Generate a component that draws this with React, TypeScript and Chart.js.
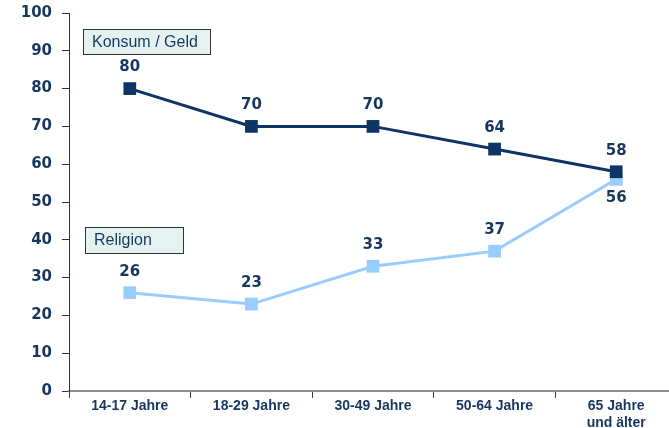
import React, { useEffect, useRef } from "react";
import { Chart, registerables } from "chart.js";

Chart.register(...registerables);

const categories: (string | string[])[] = [
  "14-17 Jahre",
  "18-29 Jahre",
  "30-49 Jahre",
  "50-64 Jahre",
  ["65 Jahre", "und älter"],
];
const konsumValues = [80, 70, 70, 64, 58];
const religionValues = [26, 23, 33, 37, 56];
const konsumLabelBelow = [false, false, false, false, false];
const religionLabelBelow = [false, false, false, false, true];
const seriesNames = ["Konsum / Geld", "Religion"];

const NAVY = "#0E3466";
const TEXT = "#17375E";
const LIGHT = "#99CCFF";
const FONT = "'Liberation Sans', Arial, sans-serif";
const WIDE = "'DejaVu Sans', Verdana, sans-serif";

const valueLabels = {
  id: "valueLabels",
  afterDatasetsDraw(chart: any) {
    const ctx = chart.ctx;
    ctx.save();
    ctx.font = `bold 15px ${WIDE}`;
    ctx.fillStyle = TEXT;
    ctx.textAlign = "center";
    ctx.textBaseline = "middle";
    const below = [konsumLabelBelow, religionLabelBelow];
    chart.data.datasets.forEach((ds: any, di: number) => {
      const meta = chart.getDatasetMeta(di);
      meta.data.forEach((pt: any, i: number) => {
        const b = below[di][i];
        ctx.fillText(String(ds.data[i]), pt.x, b ? pt.y + 19 : pt.y - 21);
      });
    });
    ctx.restore();
  },
};

const nameBoxes = {
  id: "nameBoxes",
  afterDraw(chart: any) {
    const ctx = chart.ctx;
    const a = chart.chartArea;
    const boxes = [
      { text: seriesNames[0], x: a.left + 14, y: 29, w: 127, h: 25 },
      { text: seriesNames[1], x: a.left + 16, y: 227, w: 98, h: 26 },
    ];
    ctx.save();
    boxes.forEach((b) => {
      ctx.fillStyle = "#E6F2F2";
      ctx.fillRect(b.x, b.y, b.w, b.h);
      ctx.strokeStyle = "#333333";
      ctx.lineWidth = 1;
      ctx.strokeRect(b.x + 0.5, b.y + 0.5, b.w, b.h);
      ctx.fillStyle = TEXT;
      ctx.font = `16px ${FONT}`;
      ctx.textAlign = "left";
      ctx.textBaseline = "middle";
      ctx.fillText(b.text, b.x + 9, b.y + b.h / 2 + 1);
    });
    ctx.restore();
  },
};

export default function App() {
  const ref = useRef<HTMLCanvasElement>(null);
  useEffect(() => {
    if (!ref.current) return;
    const chart = new Chart(ref.current, {
      type: "line",
      data: {
        labels: categories as any,
        datasets: [
          {
            label: seriesNames[0],
            data: konsumValues,
            borderColor: NAVY,
            backgroundColor: NAVY,
            borderWidth: 3,
            pointStyle: "rect",
            pointRadius: 9,
            pointBorderWidth: 0,
            pointBackgroundColor: NAVY,
            tension: 0,
          },
          {
            label: seriesNames[1],
            data: religionValues,
            borderColor: LIGHT,
            backgroundColor: LIGHT,
            borderWidth: 3,
            pointStyle: "rect",
            pointRadius: 9,
            pointBorderWidth: 0,
            pointBackgroundColor: LIGHT,
            tension: 0,
          },
        ],
      },
      options: {
        responsive: false,
        animation: false,
        devicePixelRatio: 1,
        layout: { padding: { top: 13, left: 0, right: 0, bottom: 0 } },
        plugins: {
          legend: { display: false },
          tooltip: { enabled: false },
        },
        scales: {
          x: {
            offset: true,
            afterFit(scale: any) {
              scale.height = 37;
            },
            border: { display: true, color: "#909090", width: 2 },
            grid: {
              offset: true,
              drawOnChartArea: false,
              drawTicks: true,
              tickLength: 7,
              color: "#404040",
              lineWidth: 1,
            },
            ticks: {
              color: TEXT,
              font: { family: FONT, size: 14, weight: "bold", lineHeight: 1.18 },
              padding: 0,
              maxRotation: 0,
              autoSkip: false,
            },
          },
          y: {
            min: 0,
            max: 100,
            afterFit(scale: any) {
              scale.width = 69;
              scale.paddingTop = 0;
              scale.paddingBottom = 0;
            },
            border: { display: true, color: "#1A2F8A", width: 1 },
            grid: {
              drawOnChartArea: false,
              drawTicks: true,
              tickLength: 7,
              color: "#1A2F8A",
            },
            ticks: {
              stepSize: 10,
              color: TEXT,
              font: { family: WIDE, size: 15, weight: "bold" },
              padding: 10,
            },
          },
        },
      },
      plugins: [valueLabels, nameBoxes],
    });
    return () => chart.destroy();
  }, []);
  return (
    <div
      style={{
        position: "fixed",
        left: 0,
        top: 0,
        width: 669,
        height: 428,
        overflow: "hidden",
        background: "#fff",
      }}
    >
      <canvas ref={ref} width={686} height={428} />
    </div>
  );
}
